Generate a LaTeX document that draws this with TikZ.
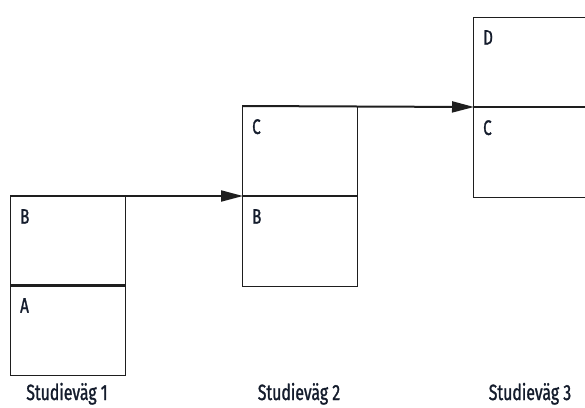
\documentclass[tikz,border=0pt]{standalone}
\usepackage{fontspec}
\setmainfont{Fira Sans}[FakeStretch=0.72, FakeBold=1.2]
\usetikzlibrary{arrows.meta}
\definecolor{ink}{HTML}{1E1E1E}
\definecolor{txt}{HTML}{141C2C}
\tikzset{
  cell/.style={draw=ink, line width=1pt, minimum width=115pt, minimum height=90pt, inner sep=0pt, anchor=north west},
  letter/.style={anchor=north west, inner sep=0pt, text=txt, font=\fontsize{21}{21}\selectfont},
  caption/.style={anchor=base, inner sep=0pt, text=txt, font=\fontsize{22}{22}\selectfont},
  flow/.style={draw=ink, line width=2pt, -{Triangle[length=22pt,width=11pt]}, shorten >=-1pt},
  divider/.style={draw=ink, line width=2pt}
}
\begin{document}
\begin{tikzpicture}[x=1pt,y=-1pt]
\useasboundingbox (0,0) rectangle (585,407);
\clip (0,0) rectangle (585,407);
% column 1
\node[cell] (c1b) at (10,196) {};
\node[cell] (c1a) at (10,285) {};
% column 2
\node[cell] (c2c) at (242,106) {};
\node[cell] (c2b) at (242,196) {};
% column 3
\node[cell] (c3d) at (473,17) {};
\node[cell] (c3c) at (473,107) {};
% letters
\node[letter] (lb1) at ([xshift=10pt,yshift=-13pt]c1b.north west) {B};
\node[letter] (la1) at ([xshift=10pt,yshift=-13pt]c1a.north west) {A};
\node[letter] (lc2) at ([xshift=10pt,yshift=-13pt]c2c.north west) {C};
\node[letter] (lb2) at ([xshift=10pt,yshift=-13pt]c2b.north west) {B};
\node[letter] (ld3) at ([xshift=10pt,yshift=-13pt]c3d.north west) {D};
\node[letter] (lc3) at ([xshift=10pt,yshift=-13pt]c3c.north west) {C};
% dividers
\draw[divider] (c1a.north west) -- (c1a.north east);
\draw[divider] (c2b.north west) -- (c2b.north east);
\draw[divider] (c3c.north west) -- (c3c.north east);
% arrows
\draw[flow] (c1b.north west) -- (c2b.north west);
\draw[flow] (c2c.north west) -- (c3c.north west);
% captions
\node[caption] (s1) at (67,400) {Studieväg 1};
\node[caption] (s2) at (299,400) {Studieväg 2};
\node[caption] (s3) at (530,400) {Studieväg 3};
\end{tikzpicture}
\end{document}
